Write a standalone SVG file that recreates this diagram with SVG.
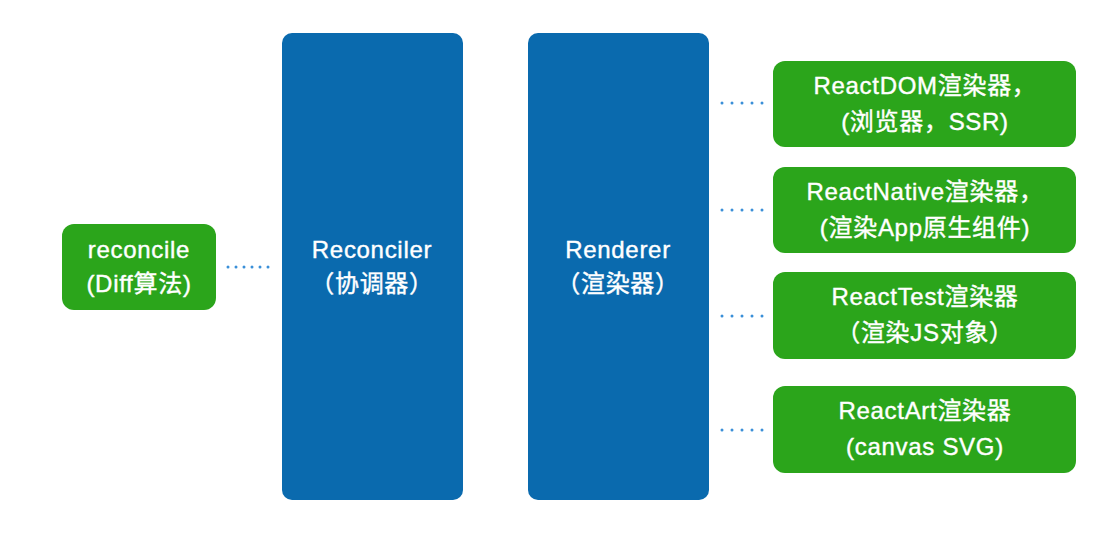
<svg xmlns="http://www.w3.org/2000/svg" width="1117" height="537" viewBox="0 0 1117 537">
<style>
.blue{fill:#0a6aae}
.green{fill:#2ba51b}
.t{font-family:"Liberation Sans","Noto Sans CJK SC",sans-serif;font-size:24px;letter-spacing:0.7px;fill:#ffffff;stroke:#ffffff;stroke-width:0.4;text-anchor:middle}
.dot{stroke:#3a8fd8;stroke-width:3;stroke-linecap:round;fill:none}
</style>
<rect width="1117" height="537" fill="#ffffff"/>
<g id="connectors">
<line class="dot" x1="228" y1="267" x2="269" y2="267" stroke-dasharray="0 8"/>
<line class="dot" x1="722" y1="103" x2="763" y2="103" stroke-dasharray="0 10"/>
<line class="dot" x1="722" y1="210" x2="763" y2="210" stroke-dasharray="0 10"/>
<line class="dot" x1="722" y1="316" x2="763" y2="316" stroke-dasharray="0 10"/>
<line class="dot" x1="722" y1="430" x2="763" y2="430" stroke-dasharray="0 10"/>
</g>
<g id="reconcile">
<rect class="green" x="62" y="224" width="154" height="86" rx="12"/>
<text class="t" x="139" y="258">reconcile</text>
<text class="t" x="139" y="292">(Diff算法)</text>
</g>
<g id="reconciler">
<rect class="blue" x="282" y="33" width="181" height="467" rx="10"/>
<text class="t" x="372" y="258">Reconciler</text>
<text class="t" x="372" y="292">（协调器）</text>
</g>
<g id="renderer">
<rect class="blue" x="528" y="33" width="181" height="467" rx="10"/>
<text class="t" x="618" y="258">Renderer</text>
<text class="t" x="618" y="292">（渲染器）</text>
</g>
<g id="react-dom">
<rect class="green" x="773" y="61" width="303" height="86" rx="12"/>
<text class="t" x="925" y="94">ReactDOM渲染器，</text>
<text class="t" x="925" y="130">(浏览器，SSR)</text>
</g>
<g id="react-native">
<rect class="green" x="773" y="167" width="303" height="86" rx="12"/>
<text class="t" x="925" y="200">ReactNative渲染器，</text>
<text class="t" x="925" y="236">(渲染App原生组件)</text>
</g>
<g id="react-test">
<rect class="green" x="773" y="272" width="303" height="87" rx="12"/>
<text class="t" x="925" y="305">ReactTest渲染器</text>
<text class="t" x="925" y="341">（渲染JS对象）</text>
</g>
<g id="react-art">
<rect class="green" x="773" y="386" width="303" height="87" rx="12"/>
<text class="t" x="925" y="419">ReactArt渲染器</text>
<text class="t" x="925" y="455">(canvas SVG)</text>
</g>
</svg>
